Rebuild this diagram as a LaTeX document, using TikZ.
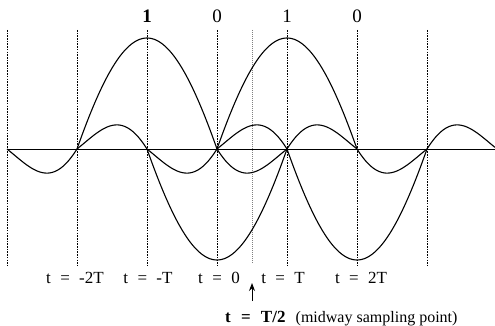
\documentclass[tikz,border=0pt]{standalone}
\usepackage{fontspec}
\setmainfont{Liberation Serif}
\usetikzlibrary{arrows.meta}
\newcommand\myBotFont{\fontsize{17}{17}\selectfont\spaceskip=0.55em\relax}
\newcommand\myMidFont{\fontsize{17}{17}\selectfont\spaceskip=0.6em\relax}
\newcommand\mySmallFont{\fontsize{16}{16}\selectfont\spaceskip=0pt\relax}
% one pulse: centre, sign (+1 up, -1 down), right end (in T units)
\newcommand\myPulse[3]{%
  \draw[pulse] plot[domain=-2:-1, samples=40] ({#1+70*\x},{149-(#2)*\A*sin(180*\x)/(pi*\x)})
    -- plot[domain=-1:1, samples=81] ({#1+70*\x},{149-(#2)*\A*0.5*(cos(90*\x)+1-\x*\x)})
    -- plot[domain=1:#3, samples=40] ({#1+70*\x},{149-(#2)*\A*sin(180*\x)/(pi*\x)});}
\begin{document}
\begin{tikzpicture}[x=1pt,y=-1pt,
  gridline/.style={line width=0.9pt, dash pattern=on 1.6pt off 1.1pt},
  midline/.style={line width=0.5pt, gray, dash pattern=on 1pt off 1pt},
  pulse/.style={line width=1.1pt, line join=round},
  axisline/.style={line width=1pt},
  toplab/.style={anchor=base, font=\fontsize{19}{19}\selectfont},
  botlab/.style={anchor=base, font=\myBotFont},
  arrowtip/.style={-{Stealth[length=8pt,width=6pt]}, line width=1pt}]
\useasboundingbox (0,0) rectangle (495,326);
\def\A{111}
% dotted vertical lines
\foreach \xx/\nm in {7/g0,77/g1,147/g2,217/g3,287/g4,357/g5,427/g6}{
  \coordinate (\nm t) at (\xx,30);
  \coordinate (\nm b) at (\xx,265);
  \draw[gridline] (\nm t) -- (\nm b);
}
\coordinate (midt) at (252,30);
\coordinate (midb) at (252,264);
\draw[midline] (midt) -- (midb);
% axis
\coordinate (axl) at (7,149);
\coordinate (axr) at (495,149);
\draw[axisline] (axl) -- (axr);
% pulses
\myPulse{147}{1}{2}
\myPulse{217}{-1}{2}
\myPulse{287}{1}{2}
\myPulse{357}{-1}{1.9714}
% top labels
\node[toplab, font=\fontsize{19}{19}\selectfont\bfseries] (b1) at (147,23) {1};
\node[toplab] (b2) at (217,23) {0};
\node[toplab] (b3) at (287,23) {1};
\node[toplab] (b4) at (357,23) {0};
% bottom labels
\node[botlab] (l1) at (75,283) {t = -2T};
\node[botlab] (l2) at (148,283) {t = -T};
\node[botlab] (l3) at (219,283) {t = 0};
\node[botlab] (l4) at (283,283) {t = T};
\node[botlab] (l5) at (361,283) {t = 2T};
% midway label
\node[anchor=base west, inner sep=0pt] (mid) at (225,322)
  {\myMidFont\textbf{t = T/2} \mySmallFont(midway sampling point)};
\coordinate (arrtail) at (252,301);
\coordinate (arrtip) at (252,283);
\draw[arrowtip] (arrtail) -- (arrtip);
\end{tikzpicture}
\end{document}
